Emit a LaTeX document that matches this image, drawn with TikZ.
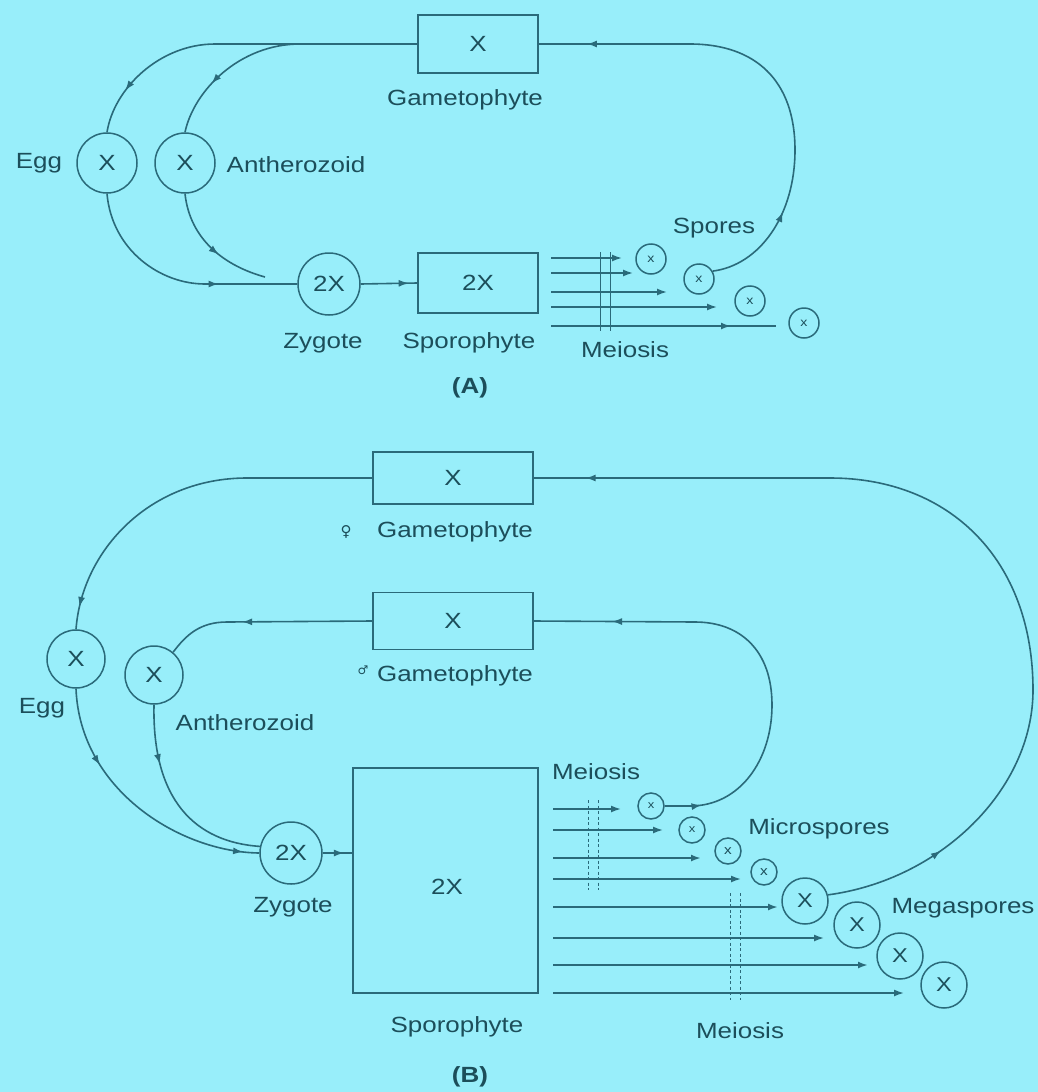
\documentclass[tikz,border=0pt]{standalone}
\usepackage{fontspec}
\setmainfont{Liberation Sans}[FakeStretch=1.18]
\newfontfamily\symfont{DejaVu Sans}
\usetikzlibrary{arrows.meta,decorations.markings,calc}
\definecolor{bgc}{RGB}{152,238,250}
\definecolor{lnc}{RGB}{42,106,122}
\definecolor{txc}{RGB}{28,78,90}
\tikzset{
  conn/.style={draw=lnc,line width=1.6pt},
  heavyconn/.style={draw=lnc,line width=2.6pt},
  tipend/.style={-{Latex[length=10pt,width=7pt]}},
  arrowat/.style={postaction={decorate,decoration={markings,mark=at position #1 with {\arrow[lnc]{Latex[length=10pt,width=7pt]}}}}},
  boxn/.style={draw=lnc,line width=1.7pt,rectangle,inner sep=0pt},
  circn/.style={draw=lnc,line width=1.5pt,circle,inner sep=0pt,minimum size=#1},
  lbl/.style={text=txc,font=\fontsize{22}{26}\selectfont,inner sep=0pt},
  smallx/.style={text=txc,font=\fontsize{12}{14}\selectfont},
  midx/.style={text=txc,font=\fontsize{20}{24}\selectfont},
  meiv/.style={draw=lnc,line width=0.9pt},
  meivd/.style={draw=lnc,line width=0.9pt,dash pattern=on 3pt off 2.5pt},
}
\begin{document}
\begin{tikzpicture}[x=1pt,y=-1pt,every node/.style={text=txc,font=\fontsize{22}{26}\selectfont,inner sep=0pt}]
\fill[bgc] (0,0) rectangle (1038,1092);
\useasboundingbox (0,0) rectangle (1038,1092);

% ================= PART A =================
\node[boxn,minimum width=120pt,minimum height=58pt] (gamA) at (478,44) {X};
\node[lbl] (gamAl) at (465,100) {Gametophyte};
\node[circn=60pt] (eggA) at (107,163) {X};
\node[lbl] (eggAl) at (39,163) {Egg};
\node[circn=60pt] (anthA) at (185,163) {X};
\node[lbl] (anthAl) at (296,165) {Antherozoid};
\node[circn=62pt] (zygA) at (329,284) {2X};
\node[lbl] (zygAl) at (323,343) {Zygote};
\node[boxn,minimum width=120pt,minimum height=60pt] (spA) at (478,283) {2X};
\node[lbl] (spAl) at (469,343) {Sporophyte};
\node[lbl,font=\fontsize{22}{26}\selectfont\bfseries] (labA) at (470,388) {(A)};
\node[circn=30pt,smallx] (sA1) at (651,259) {x};
\node[circn=30pt,smallx] (sA2) at (699,279) {x};
\node[circn=30pt,smallx] (sA3) at (750,301) {x};
\node[circn=30pt,smallx] (sA4) at (804,323) {x};
\node[lbl] (sporesAl) at (714,228) {Spores};
\node[lbl] (meiAl) at (625,350) {Meiosis};

\coordinate (jA) at (300,44);
\coordinate (jAo) at (215,44);
\coordinate (rA) at (690,44);
\coordinate (rAm) at (795,150);
\coordinate (bA) at (205,284);

% spore -> gametophyte loop
\draw[conn,arrowat=0.2,arrowat=0.9] (sA2.30) .. controls (760,265) and (795,215) .. (rAm)
   .. controls (795,80) and (755,44) .. (rA) -- (gamA.east);
% gametophyte -> egg / antherozoid
\draw[conn,arrowat=0.87] (gamA.west) -- (jAo) .. controls (160,44) and (114,88) .. (eggA.north);
\draw[conn,arrowat=0.64] (jA) .. controls (240,44) and (194,90) .. (anthA.north);
% egg -> zygote, antherozoid -> zygote
\draw[conn,arrowat=0.67] (eggA.south) .. controls (112,250) and (160,284) .. (bA) -- (zygA.west);
\coordinate (aAe) at (265,277);
\draw[conn,arrowat=0.58] (anthA.south) .. controls (190,240) and (225,266) .. (aAe);
% zygote -> sporophyte
\draw[conn,arrowat=0.85] (zygA.east) -- (spA.west);

% meiosis lines A
\coordinate (mA1s) at (551,258); \coordinate (mA1e) at (622,258);
\coordinate (mA2s) at (551,273); \coordinate (mA2e) at (633,273);
\coordinate (mA3s) at (551,292); \coordinate (mA3e) at (667,292);
\coordinate (mA4s) at (551,307); \coordinate (mA4e) at (717,307);
\coordinate (mA5s) at (551,326); \coordinate (mA5e) at (776,326);
\draw[conn,tipend] (mA1s) -- (mA1e);
\draw[conn,tipend] (mA2s) -- (mA2e);
\draw[conn,tipend] (mA3s) -- (mA3e);
\draw[conn,tipend] (mA4s) -- (mA4e);
\draw[heavyconn,arrowat=0.8] (mA5s) -- (mA5e);
\draw[meiv] (600,252) -- (600,331);
\draw[meiv] (610,252) -- (610,331);

% ================= PART B =================
\node[boxn,minimum width=160pt,minimum height=52pt] (fgam) at (453,478) {X};
\node[lbl] (fgaml) at (455,532) {Gametophyte};
\node[text=txc,font=\symfont\fontsize{15}{17}\selectfont] (fsym) at (346,532) {♀};
\node[boxn,minimum width=160pt,minimum height=57pt] (mgam) at (453,621) {X};
\node[lbl] (mgaml) at (455,676) {Gametophyte};
\node[text=txc,font=\symfont\fontsize{12}{14}\selectfont] (msym) at (363,670) {♂};
\node[circn=58pt] (eggB) at (76,659) {X};
\node[lbl] (eggBl) at (42,708) {Egg};
\node[circn=58pt] (anthB) at (154,675) {X};
\node[lbl] (anthBl) at (245,723) {Antherozoid};
\node[circn=62pt] (zygB) at (291,853) {2X};
\node[lbl] (zygBl) at (293,907) {Zygote};
\node[boxn,minimum width=185pt,minimum height=225pt] (spB) at (445.5,880.5) {};
\node[lbl] (spBx) at (447,887) {2X};
\node[lbl] (spBl) at (457,1027) {Sporophyte};
\node[lbl,font=\fontsize{22}{26}\selectfont\bfseries] (labB) at (470,1077) {(B)};
\node[lbl] (meiBt) at (596,772) {Meiosis};
\node[lbl] (meiBb) at (740,1031) {Meiosis};
\node[lbl] (micl) at (819,829) {Microspores};
\node[lbl] (megl) at (963,908) {Megaspores};

\node[circn=26pt,smallx,font=\fontsize{11}{13}\selectfont] (mi1) at (651,806) {x};
\node[circn=26pt,smallx,font=\fontsize{11}{13}\selectfont] (mi2) at (692,830) {x};
\node[circn=26pt,smallx,font=\fontsize{13}{15}\selectfont] (mi3) at (728,851) {x};
\node[circn=26pt,smallx,font=\fontsize{13}{15}\selectfont] (mi4) at (764,872) {x};
\node[circn=46pt,midx] (me1) at (805,901) {X};
\node[circn=46pt,midx] (me2) at (857,925) {X};
\node[circn=46pt,midx] (me3) at (900,956) {X};
\node[circn=46pt,midx] (me4) at (944,985) {X};

\coordinate (oB1) at (1033,690);
\coordinate (oB2) at (830,478);
\coordinate (lB) at (247,478);
\coordinate (iB0) at (690,806);
\coordinate (iB1) at (772,705);
\coordinate (iB2) at (695,622);
\coordinate (lBm) at (227,622);

% megaspore -> female gametophyte
\draw[conn,arrowat=0.13,arrowat=0.945] (me1.15) .. controls (940,880) and (1033,790) .. (oB1)
   .. controls (1033,560) and (950,478) .. (oB2) -- (fgam.east);
% female gametophyte -> egg
\draw[conn,arrowat=0.94] (fgam.west) -- (lB) .. controls (150,478) and (82,550) .. (eggB.north);
% microspore -> male gametophyte
\draw[conn,arrowat=0.08,arrowat=0.83] (mi1.east) -- (iB0) .. controls (740,806) and (772,760) .. (iB1)
   .. controls (772,650) and (740,622) .. (iB2) -- (mgam.east);
% male gametophyte -> antherozoid
\draw[conn,arrowat=0.62] (mgam.west) -- (lBm) .. controls (200,622) and (186,635) .. (anthB.50);
% egg -> zygote ; antherozoid -> zygote
\draw[conn,arrowat=0.3,arrowat=0.94] (eggB.south) .. controls (80,790) and (180,852) .. (zygB.west);
\draw[conn,arrowat=0.3] (anthB.south) .. controls (152,800) and (195,842) .. (zygB.168);
% zygote -> sporophyte
\draw[conn,arrowat=0.72] (zygB.east) -- (zygB.east -| spB.west);

% meiosis lines B (micro)
\coordinate (mb1s) at (553,809); \coordinate (mb1e) at (621,809);
\coordinate (mb2s) at (553,830); \coordinate (mb2e) at (663,830);
\coordinate (mb3s) at (553,858); \coordinate (mb3e) at (701,858);
\coordinate (mb4s) at (553,879); \coordinate (mb4e) at (741,879);
\draw[conn,tipend] (mb1s) -- (mb1e);
\draw[conn,tipend] (mb2s) -- (mb2e);
\draw[conn,line width=2.1pt,tipend] (mb3s) -- (mb3e);
\draw[conn,tipend] (mb4s) -- (mb4e);
% meiosis lines B (mega)
\coordinate (mc1s) at (553,907); \coordinate (mc1e) at (778,907);
\coordinate (mc2s) at (553,938); \coordinate (mc2e) at (824,938);
\coordinate (mc3s) at (553,965); \coordinate (mc3e) at (868,965);
\coordinate (mc4s) at (553,993); \coordinate (mc4e) at (904,993);
\draw[heavyconn,tipend] (mc1s) -- (mc1e);
\draw[conn,tipend] (mc2s) -- (mc2e);
\draw[heavyconn,tipend] (mc3s) -- (mc3e);
\draw[conn,tipend] (mc4s) -- (mc4e);
% dashed meiosis boundaries
\draw[meivd] (588,800) -- (588,890);
\draw[meivd] (598,800) -- (598,890);
\draw[meivd] (730,893) -- (730,1000);
\draw[meivd] (740,893) -- (740,1000);
\end{tikzpicture}
\end{document}
